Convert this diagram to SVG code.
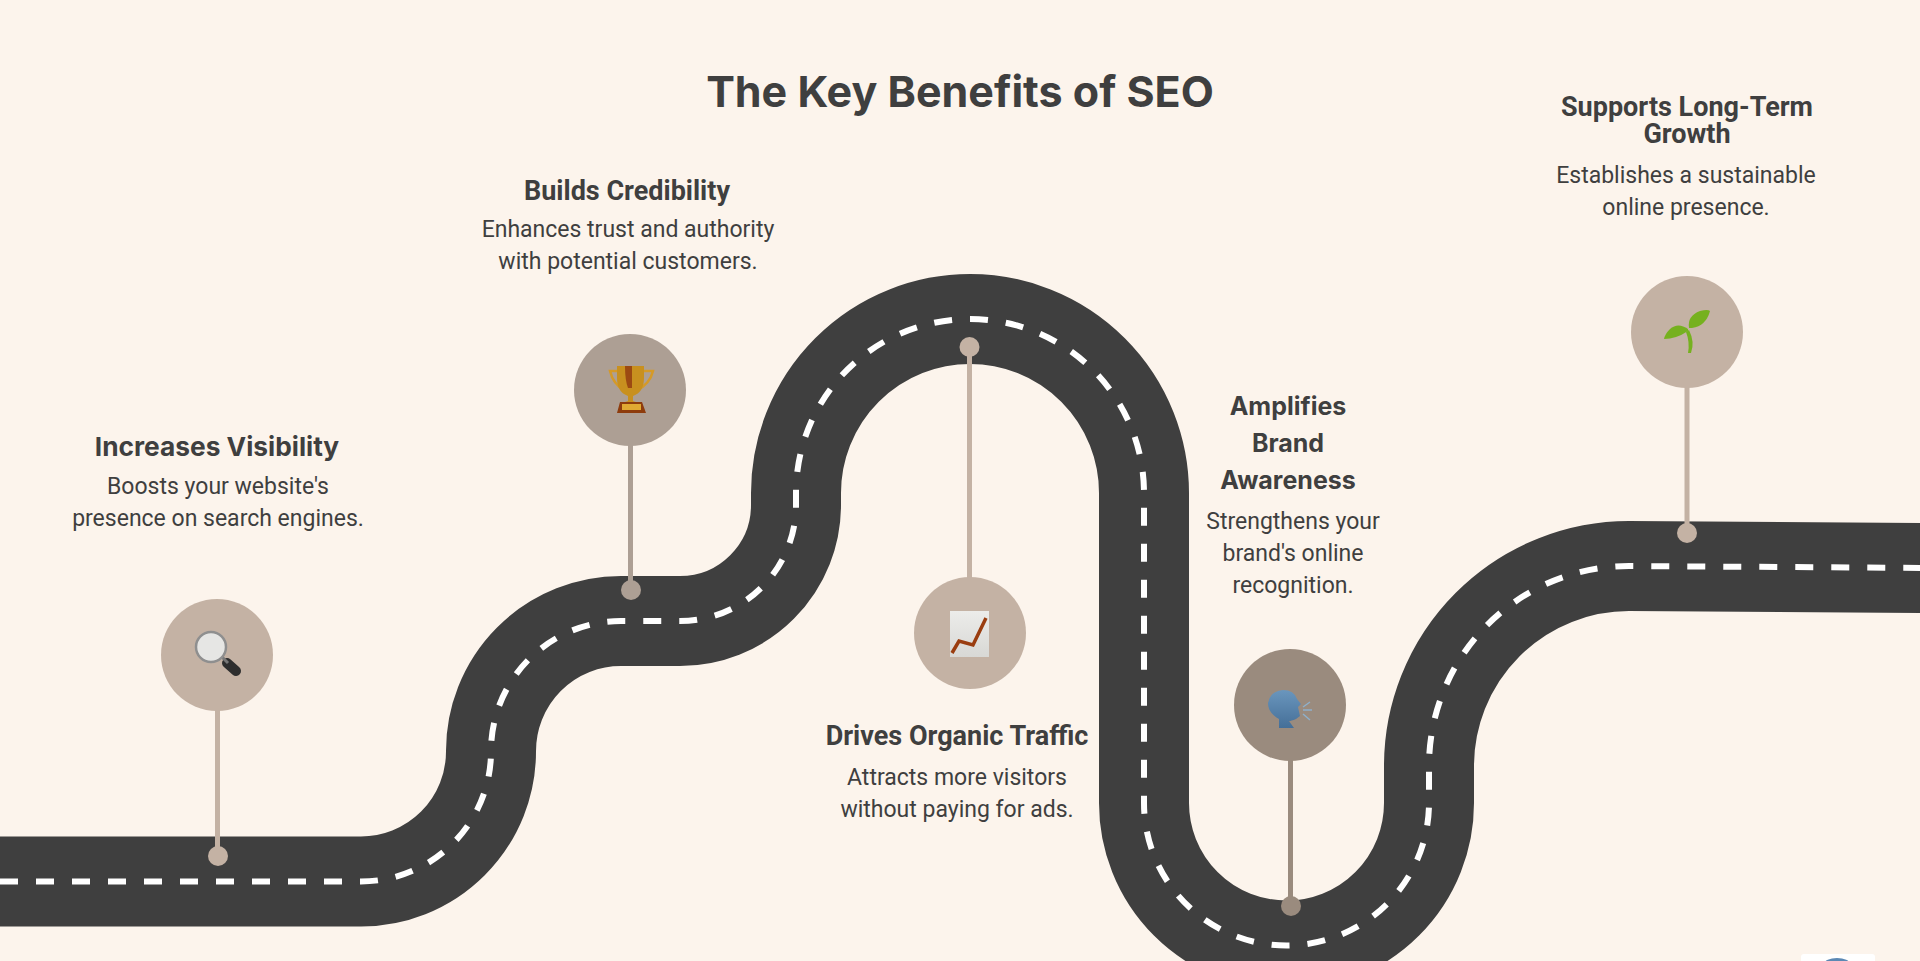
<svg xmlns="http://www.w3.org/2000/svg" width="1920" height="961" viewBox="0 0 1920 961">
<style>
.road{fill:none;stroke:#3f3f3f;stroke-width:90}
.lane{fill:none;stroke:#fff;stroke-width:6;stroke-dasharray:18 18}
.h{font-family:Inter,"Liberation Sans",sans-serif;font-weight:700;fill:#3f3f3f;text-anchor:middle}
.r{font-family:Roboto,"Liberation Sans",sans-serif;font-weight:700;fill:#3f3f3f;text-anchor:middle;font-size:27px}
.b{font-family:Roboto,"Liberation Sans",sans-serif;font-weight:400;fill:#3f3f3f;text-anchor:middle;font-size:23px}
.pin{stroke-width:5;fill:none}
</style>
<defs>
<linearGradient id="head" x1="0" y1="0" x2="0" y2="1"><stop offset="0" stop-color="#6a96bd"/><stop offset="1" stop-color="#456f98"/></linearGradient>
<linearGradient id="paper" x1="0" y1="0" x2="0" y2="1"><stop offset="0" stop-color="#ececea"/><stop offset="1" stop-color="#d8d8d5"/></linearGradient>
</defs>
<rect width="1920" height="961" fill="#fcf4ec"/>
<g id="connectors">
<path id="road" class="road" d="M-10 881.500H361A130 130 0 0 0 491 751.500A130 130 0 0 1 621 621H680A116 116 0 0 0 796 505V493A174 174 0 0 1 1144 493V803A142.500 142.500 0 0 0 1429 803V766A200 200 0 0 1 1629 566L1930 568"/>
<path id="lane" class="lane" d="M0 881.500H361A130 130 0 0 0 491 751.500A130 130 0 0 1 621 621H680A116 116 0 0 0 796 505V493A174 174 0 0 1 1144 493V803A142.500 142.500 0 0 0 1429 803V766A200 200 0 0 1 1629 566L1930 568"/>
<path class="pin" stroke="#c4b2a4" d="M217.500 700V856"/>
<path class="pin" stroke="#ad9f94" d="M630.500 430V590"/>
<path class="pin" stroke="#c4b2a4" d="M969.500 347V590"/>
<path class="pin" stroke="#9a8b7e" d="M1290.500 750V906"/>
<path class="pin" stroke="#c4b2a4" d="M1687 375V533"/>
</g>
<text x="960" y="107" class="h" font-size="43px">The Key Benefits of SEO</text>
<g id="node-visibility">
<circle cx="217" cy="655" r="56" fill="#c4b2a4"/><circle cx="218" cy="856" r="10" fill="#c4b2a4"/>
<path d="M227 663L236 671" stroke="#2e2e2e" stroke-width="10" stroke-linecap="round"/>
<path d="M222 657L228 663" stroke="#777" stroke-width="3"/>
<circle cx="211" cy="647" r="15" fill="#e6e6e4" stroke="#8f8f8f" stroke-width="2.500"/>
<text x="217" y="456" class="h" font-size="26.300px">Increases Visibility</text>
<text x="218" y="494" class="b">Boosts your website's</text>
<text x="218" y="526" class="b">presence on search engines.</text>
</g>
<g id="node-credibility">
<circle cx="630" cy="390" r="56" fill="#ad9f94"/><circle cx="631" cy="590" r="10" fill="#ad9f94"/>
<path d="M618 371H610Q613 384 625 391M643 371H653Q650 384 636 391" fill="none" stroke="#d59a28" stroke-width="2.500"/>
<path d="M617 366H644V378Q644 392 633 396V401L639 403H622L628 401V396Q617 392 617 378Z" fill="#c8901f"/>
<path d="M625 366H632V388H628Q625 380 625 366Z" fill="#9c4a12"/>
<path d="M617 413L620 402H642L646 413Z" fill="#8e3c0d"/>
<rect x="622" y="404" width="19" height="6" fill="#e0a933"/>
<text x="627" y="200" class="r">Builds Credibility</text>
<text x="628" y="237" class="b">Enhances trust and authority</text>
<text x="628" y="269" class="b">with potential customers.</text>
</g>
<g id="node-traffic">
<circle cx="970" cy="633" r="56" fill="#c4b2a4"/><circle cx="969.500" cy="347" r="10" fill="#c4b2a4"/>
<rect x="950" y="611" width="39" height="46" fill="url(#paper)"/>
<path d="M952 653L959 641L973 645L986 618" fill="none" stroke="#9a3d10" stroke-width="3.500"/>
<text x="957" y="745" class="r">Drives Organic Traffic</text>
<text x="957" y="785" class="b">Attracts more visitors</text>
<text x="957" y="817" class="b">without paying for ads.</text>
</g>
<g id="node-awareness">
<circle cx="1290" cy="705" r="56" fill="#9a8b7e"/><circle cx="1291" cy="906" r="10" fill="#9a8b7e"/>
<path d="M1279 728V719Q1268 713 1268 703Q1270 691 1283 690Q1294 690 1297 699L1301 704L1298 707L1300 716L1296 719Q1291 721 1289 721L1294 728Z" fill="url(#head)"/>
<path d="M1303 707L1310 702M1303 710H1312M1303 714L1310 720" stroke="#8fb0cb" stroke-width="1.500"/>
<text x="1288" y="415" class="h" font-size="25px">Amplifies</text>
<text x="1288" y="452" class="h" font-size="25px">Brand</text>
<text x="1288" y="489" class="h" font-size="25px">Awareness</text>
<text x="1293" y="529" class="b">Strengthens your</text>
<text x="1293" y="561" class="b">brand's online</text>
<text x="1293" y="593" class="b">recognition.</text>
</g>
<g id="node-growth">
<circle cx="1687" cy="332" r="56" fill="#c4b2a4"/><circle cx="1687" cy="533" r="10" fill="#c4b2a4"/>
<path d="M1689 330Q1695 342 1691 353L1688 353Q1690 342 1686 332Z" fill="#76b11f"/>
<path d="M1689 328Q1687 316 1700 311Q1708 309 1710 311Q1706 326 1692 328Z" fill="#76b11f"/>
<path d="M1688 329Q1678 322 1670 329Q1665 334 1664 339Q1676 339 1688 331Z" fill="#76b11f"/>
<text x="1687" y="116" class="r">Supports Long-Term</text>
<text x="1687" y="143" class="r">Growth</text>
<text x="1686" y="183" class="b">Establishes a sustainable</text>
<text x="1686" y="215" class="b">online presence.</text>
</g>
<g id="corner">
<rect x="1801" y="954" width="74" height="10" rx="3" fill="#fff"/>
<ellipse cx="1837" cy="964" rx="13" ry="6" fill="#5b88b4"/>
</g>
</svg>
